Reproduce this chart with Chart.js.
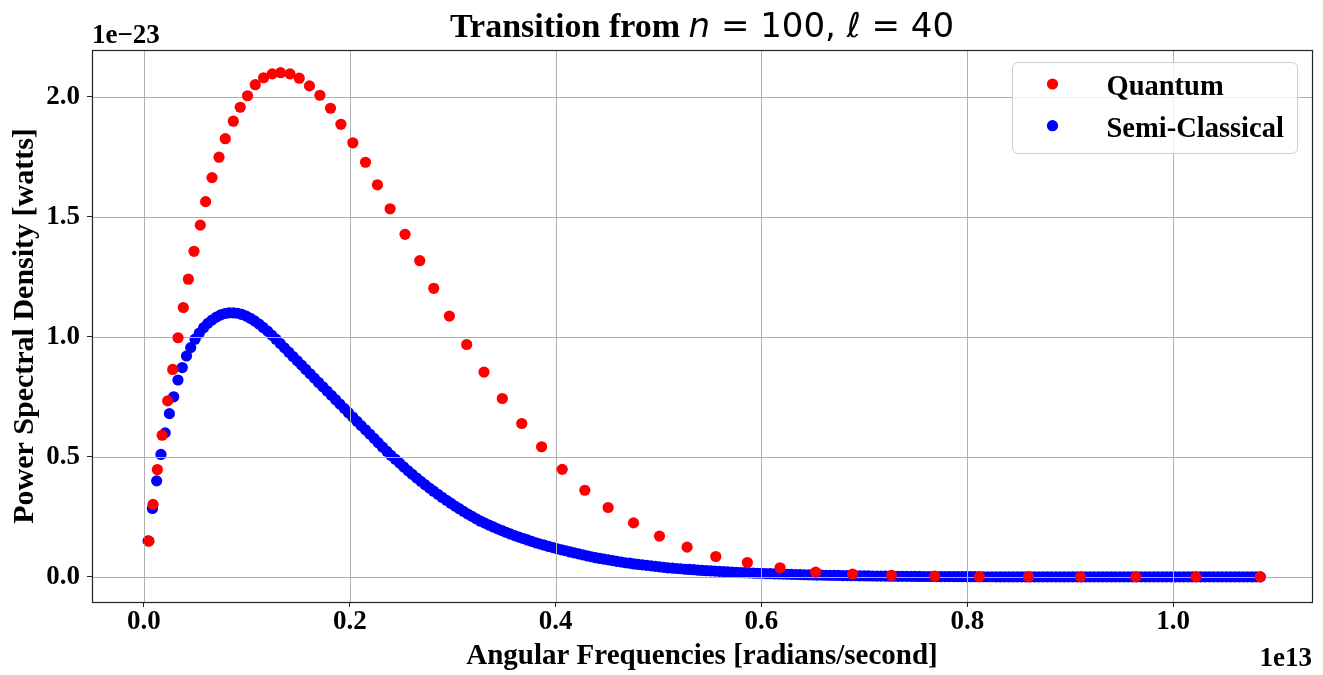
<!DOCTYPE html>
<html>
<head>
<meta charset="utf-8">
<title>Transition spectrum</title>
<script src="https://cdn.jsdelivr.net/npm/chart.js@4.4.1/dist/chart.umd.min.js"></script>
<style>
  html, body { margin: 0; padding: 0; background: #fff; }
  #wrap { position: relative; width: 1323px; height: 675px; }
</style>
</head>
<body>
<div id="wrap"><canvas id="chart"></canvas></div>
<script>
// frequencies in units of 1e13 rad/s, power in units of 1e-23 W

// quantum transitions n=100 -> n'
const quantumFreq = [
    0.0050, 0.0089, 0.0131, 0.0177, 0.0231, 0.0280, 0.0332, 0.0383, 0.0432, 0.0487,
    0.0548, 0.0600, 0.0662, 0.0730, 0.0791, 0.0869, 0.0936, 0.1007, 0.1082, 0.1163,
    0.1247, 0.1328, 0.1419, 0.1509, 0.1609, 0.1710, 0.1813, 0.1914, 0.2030, 0.2153,
    0.2269, 0.2392, 0.2537, 0.2680, 0.2816, 0.2968, 0.3136, 0.3304, 0.3482, 0.3671,
    0.3864, 0.4064, 0.4284, 0.4510, 0.4757, 0.5009, 0.5277, 0.5556, 0.5863, 0.6180,
    0.6526, 0.6885, 0.7263, 0.7683, 0.8117, 0.8594, 0.9098, 0.9636, 1.0220, 1.0844
];
const quantumPower = [
    0.149, 0.302, 0.447, 0.590, 0.733, 0.864, 0.996, 1.122, 1.240, 1.356,
    1.465, 1.563, 1.663, 1.748, 1.825, 1.898, 1.956, 2.004, 2.050, 2.079,
    2.095, 2.100, 2.095, 2.077, 2.045, 2.006, 1.952, 1.885, 1.808, 1.727,
    1.633, 1.533, 1.427, 1.317, 1.202, 1.086, 0.968, 0.853, 0.743, 0.639,
    0.542, 0.448, 0.361, 0.289, 0.225, 0.170, 0.124, 0.085, 0.060, 0.038,
    0.020, 0.012, 0.006, 0.003, 0.001, 0.0005, 0.0002, 0.0001, 0, 0
];

// semi-classical harmonics
const semiFreq = [
    0.0041, 0.0083, 0.0124, 0.0166, 0.0207, 0.0248, 0.0290, 0.0331, 0.0373, 0.0414,
    0.0455, 0.0497, 0.0538, 0.0580, 0.0621, 0.0662, 0.0704, 0.0745, 0.0787, 0.0828,
    0.0869, 0.0911, 0.0952, 0.0994, 0.1035, 0.1076, 0.1118, 0.1159, 0.1201, 0.1242,
    0.1283, 0.1325, 0.1366, 0.1408, 0.1449, 0.1490, 0.1532, 0.1573, 0.1615, 0.1656,
    0.1697, 0.1739, 0.1780, 0.1822, 0.1863, 0.1904, 0.1946, 0.1987, 0.2029, 0.2070,
    0.2111, 0.2153, 0.2194, 0.2236, 0.2277, 0.2318, 0.2360, 0.2401, 0.2443, 0.2484,
    0.2525, 0.2567, 0.2608, 0.2650, 0.2691, 0.2732, 0.2774, 0.2815, 0.2857, 0.2898,
    0.2939, 0.2981, 0.3022, 0.3064, 0.3105, 0.3146, 0.3188, 0.3229, 0.3271, 0.3312,
    0.3353, 0.3395, 0.3436, 0.3478, 0.3519, 0.3560, 0.3602, 0.3643, 0.3685, 0.3726,
    0.3767, 0.3809, 0.3850, 0.3892, 0.3933, 0.3974, 0.4016, 0.4057, 0.4099, 0.4140,
    0.4181, 0.4223, 0.4264, 0.4306, 0.4347, 0.4388, 0.4430, 0.4471, 0.4513, 0.4554,
    0.4595, 0.4637, 0.4678, 0.4720, 0.4761, 0.4802, 0.4844, 0.4885, 0.4927, 0.4968,
    0.5009, 0.5051, 0.5092, 0.5134, 0.5175, 0.5216, 0.5258, 0.5299, 0.5341, 0.5382,
    0.5423, 0.5465, 0.5506, 0.5548, 0.5589, 0.5630, 0.5672, 0.5713, 0.5755, 0.5796,
    0.5837, 0.5879, 0.5920, 0.5962, 0.6003, 0.6044, 0.6086, 0.6127, 0.6169, 0.6210,
    0.6251, 0.6293, 0.6334, 0.6376, 0.6417, 0.6458, 0.6500, 0.6541, 0.6583, 0.6624,
    0.6665, 0.6707, 0.6748, 0.6790, 0.6831, 0.6872, 0.6914, 0.6955, 0.6997, 0.7038,
    0.7079, 0.7121, 0.7162, 0.7204, 0.7245, 0.7286, 0.7328, 0.7369, 0.7411, 0.7452,
    0.7493, 0.7535, 0.7576, 0.7618, 0.7659, 0.7700, 0.7742, 0.7783, 0.7825, 0.7866,
    0.7907, 0.7949, 0.7990, 0.8032, 0.8073, 0.8114, 0.8156, 0.8197, 0.8239, 0.8280,
    0.8321, 0.8363, 0.8404, 0.8446, 0.8487, 0.8528, 0.8570, 0.8611, 0.8653, 0.8694,
    0.8735, 0.8777, 0.8818, 0.8860, 0.8901, 0.8942, 0.8984, 0.9025, 0.9067, 0.9108,
    0.9149, 0.9191, 0.9232, 0.9274, 0.9315, 0.9356, 0.9398, 0.9439, 0.9481, 0.9522,
    0.9563, 0.9605, 0.9646, 0.9688, 0.9729, 0.9770, 0.9812, 0.9853, 0.9895, 0.9936,
    0.9977, 1.0019, 1.0060, 1.0102, 1.0143, 1.0184, 1.0226, 1.0267, 1.0309, 1.0350,
    1.0391, 1.0433, 1.0474, 1.0516, 1.0557, 1.0598, 1.0640, 1.0681, 1.0723, 1.0764,
    1.0805, 1.0847
];
const semiPower = [
    0.150, 0.285, 0.400, 0.510, 0.600, 0.680, 0.750, 0.820, 0.872, 0.920,
    0.955, 0.990, 1.015, 1.038, 1.056, 1.070, 1.082, 1.091, 1.097, 1.100,
    1.100, 1.098, 1.093, 1.086, 1.077, 1.066, 1.053, 1.039, 1.024, 1.007,
    0.990, 0.972, 0.954, 0.936, 0.918, 0.900, 0.882, 0.864, 0.846, 0.828,
    0.810, 0.792, 0.774, 0.756, 0.738, 0.720, 0.702, 0.684, 0.666, 0.648,
    0.630, 0.613, 0.595, 0.577, 0.559, 0.541, 0.523, 0.506, 0.490, 0.474,
    0.458, 0.442, 0.427, 0.412, 0.398, 0.384, 0.370, 0.357, 0.344, 0.331,
    0.319, 0.307, 0.295, 0.284, 0.273, 0.262, 0.252, 0.242, 0.232, 0.224,
    0.216, 0.208, 0.200, 0.193, 0.186, 0.179, 0.172, 0.166, 0.160, 0.154,
    0.148, 0.142, 0.137, 0.132, 0.127, 0.122, 0.117, 0.113, 0.109, 0.104,
    0.100, 0.096, 0.092, 0.088, 0.084, 0.080, 0.077, 0.074, 0.071, 0.068,
    0.065, 0.062, 0.059, 0.057, 0.054, 0.052, 0.050, 0.048, 0.046, 0.044,
    0.042, 0.040, 0.038, 0.037, 0.035, 0.034, 0.032, 0.031, 0.030, 0.028,
    0.027, 0.026, 0.025, 0.024, 0.023, 0.022, 0.021, 0.020, 0.019, 0.018,
    0.0175, 0.0168, 0.0160, 0.0153, 0.0146, 0.0140, 0.0134, 0.0128, 0.0122, 0.0116,
    0.0110, 0.0105, 0.0100, 0.0095, 0.0090, 0.0086, 0.0082, 0.0078, 0.0074, 0.0070,
    0.0066, 0.0063, 0.0060, 0.0057, 0.0054, 0.0051, 0.0048, 0.0045, 0.0042, 0.0040,
    0.0038, 0.0036, 0.0034, 0.0032, 0.0030, 0.0028, 0.0026, 0.0025, 0.0023, 0.0022,
    0.0020, 0.0019, 0.0018, 0.0017, 0.0016, 0.0015, 0.0014, 0.0013, 0.0012, 0.0011,
    0.0010, 0.0010, 0.0009, 0.0008, 0.0008, 0.0007, 0.0007, 0.0006, 0.0006, 0.0005,
    0.0005, 0.0005, 0.0004, 0.0004, 0.0004, 0.0003, 0.0003, 0.0003, 0.0003, 0.0002,
    0.0002, 0.0002, 0.0002, 0.0002, 0.0002, 0.0001, 0.0001, 0.0001, 0.0001, 0.0001,
    0.0001, 0.0001, 0.0001, 0.0001, 0.0001, 0.0001, 0.0001, 0.0001, 0.0001, 0.0001,
    0.0001, 0.0001, 0.0001, 0.0001, 0.0001, 0, 0, 0, 0, 0,
    0, 0, 0, 0, 0, 0, 0, 0, 0, 0,
    0, 0, 0, 0, 0, 0, 0, 0, 0, 0,
    0, 0
];

const xTickValues = [0.0, 0.2, 0.4, 0.6, 0.8, 1.0];
const yTickValues = [0.0, 0.5, 1.0, 1.5, 2.0];
const seriesLabels = ['Quantum', 'Semi-Classical'];
const seriesColors = ['#ff0000', '#0000ff'];

const SERIF = '"Liberation Serif", "Times New Roman", serif';
const MATH = '"DejaVu Sans", sans-serif';
const GRID_COLOR = '#b0b0b0';
const SPINE_COLOR = '#222222';

function toPoints(xs, ys) {
    return xs.map((x, i) => ({x, y: ys[i]}));
}

// grid goes between the two series: over the harmonics, under the quantum points
const gridPlugin = {
    id: 'midGrid',
    afterDatasetDraw(chart, args) {
        if (args.index !== 1) {
            return;
        }
        const {ctx, chartArea: area, scales} = chart;
        ctx.save();
        ctx.strokeStyle = GRID_COLOR;
        ctx.lineWidth = 1;
        ctx.beginPath();
        for (const v of xTickValues) {
            const px = Math.round(scales.x.getPixelForValue(v)) + 0.5;
            ctx.moveTo(px, area.top);
            ctx.lineTo(px, area.bottom);
        }
        for (const v of yTickValues) {
            const py = Math.round(scales.y.getPixelForValue(v)) + 0.5;
            ctx.moveTo(area.left, py);
            ctx.lineTo(area.right, py);
        }
        ctx.stroke();
        ctx.restore();
    }
};

const framePlugin = {
    id: 'frame',
    afterDatasetsDraw(chart) {
        const {ctx, chartArea: a} = chart;
        ctx.save();
        ctx.strokeStyle = SPINE_COLOR;
        ctx.lineWidth = 1.2;
        ctx.strokeRect(Math.round(a.left) + 0.5, Math.round(a.top) + 0.5,
            Math.round(a.right - a.left), Math.round(a.bottom - a.top));
        ctx.restore();
    }
};

// title mixes a serif text part with math-style symbols
const titleParts = [
    ['Transition from ', `bold 34px ${SERIF}`],
    ['n', `italic 34px ${MATH}`],
    [' = 100, ', `34px ${MATH}`],
    ['\u2113', `italic 34px ${MATH}`],
    [' = 40', `34px ${MATH}`]
];

const textPlugin = {
    id: 'texts',
    afterDraw(chart) {
        const {ctx, chartArea: a} = chart;
        ctx.save();
        ctx.fillStyle = '#000';
        ctx.textBaseline = 'alphabetic';

        // title
        let total = 0;
        for (const [text, font] of titleParts) {
            ctx.font = font;
            total += ctx.measureText(text).width;
        }
        let x = (a.left + a.right) / 2 - total / 2;
        ctx.textAlign = 'left';
        for (const [text, font] of titleParts) {
            ctx.font = font;
            ctx.fillText(text, x, 37);
            x += ctx.measureText(text).width;
        }

        // axis multipliers
        ctx.font = `bold 27px ${SERIF}`;
        ctx.textAlign = 'left';
        ctx.fillText('1e\u221223', a.left, 43);
        ctx.textAlign = 'right';
        ctx.fillText('1e13', a.right, 666);

        // legend
        const lw = 285, lh = 91;
        const lx = a.right - 14.5 - lw, ly = a.top + 12.5;
        ctx.beginPath();
        ctx.roundRect(lx, ly, lw, lh, 6);
        ctx.fillStyle = 'rgba(255,255,255,0.8)';
        ctx.fill();
        ctx.strokeStyle = '#cccccc';
        ctx.lineWidth = 1;
        ctx.stroke();

        ctx.font = `bold 28.5px ${SERIF}`;
        ctx.textAlign = 'left';
        chart.data.datasets.forEach((ds, i) => {
            const cy = ly + 21.5 + i * 41.7;
            ctx.beginPath();
            ctx.arc(lx + 40, cy, 5.6, 0, Math.PI * 2);
            ctx.fillStyle = ds.backgroundColor;
            ctx.fill();
            ctx.fillStyle = '#000';
            ctx.fillText(ds.label, lx + 94, cy + 11);
        });
        ctx.restore();
    }
};

new Chart(document.getElementById('chart'), {
    type: 'scatter',
    data: {
        datasets: [
            {
                label: seriesLabels[0],
                data: toPoints(quantumFreq, quantumPower),
                backgroundColor: seriesColors[0],
                borderWidth: 0,
                pointRadius: 5.6,
                pointHoverRadius: 5.6
            },
            {
                label: seriesLabels[1],
                data: toPoints(semiFreq, semiPower),
                backgroundColor: seriesColors[1],
                borderWidth: 0,
                pointRadius: 5.6,
                pointHoverRadius: 5.6
            }
        ]
    },
    options: {
        responsive: true,
        maintainAspectRatio: false,
        animation: false,
        devicePixelRatio: 1,
        events: [],
        layout: {
            padding: {top: 50, right: 11, left: 0, bottom: 0}
        },
        plugins: {
            legend: {display: false},
            title: {display: false},
            tooltip: {enabled: false}
        },
        scales: {
            x: {
                type: 'linear',
                min: -0.0504,
                max: 1.1348,
                afterBuildTicks: scale => {
                    scale.ticks = xTickValues.map(value => ({value}));
                },
                afterFit: scale => {
                    scale.height = 73;
                },
                grid: {
                    drawOnChartArea: false,
                    drawTicks: true,
                    tickLength: 5,
                    tickColor: SPINE_COLOR,
                    tickWidth: 1
                },
                border: {display: false},
                ticks: {
                    autoSkip: false,
                    maxRotation: 0,
                    padding: -1,
                    color: '#000',
                    font: {family: SERIF, size: 27, weight: 'bold'},
                    callback: v => v.toFixed(1)
                },
                title: {
                    display: true,
                    text: 'Angular Frequencies [radians/second]',
                    color: '#000',
                    font: {family: SERIF, size: 29, weight: 'bold', lineHeight: 1.2},
                    padding: {top: 0, bottom: 1}
                }
            },
            y: {
                type: 'linear',
                min: -0.1045,
                max: 2.1945,
                afterBuildTicks: scale => {
                    scale.ticks = yTickValues.map(value => ({value}));
                },
                afterFit: scale => {
                    scale.width = 92;
                },
                grid: {
                    drawOnChartArea: false,
                    drawTicks: true,
                    tickLength: 5,
                    tickColor: SPINE_COLOR,
                    tickWidth: 1
                },
                border: {display: false},
                ticks: {
                    padding: 7,
                    color: '#000',
                    font: {family: SERIF, size: 27, weight: 'bold'},
                    callback: v => v.toFixed(1)
                },
                title: {
                    display: true,
                    text: 'Power Spectral Density [watts]',
                    color: '#000',
                    font: {family: SERIF, size: 30, weight: 'bold', lineHeight: 1.2},
                    padding: {top: 7, bottom: 0}
                }
            }
        }
    },
    plugins: [gridPlugin, framePlugin, textPlugin]
});
</script>
</body>
</html>
